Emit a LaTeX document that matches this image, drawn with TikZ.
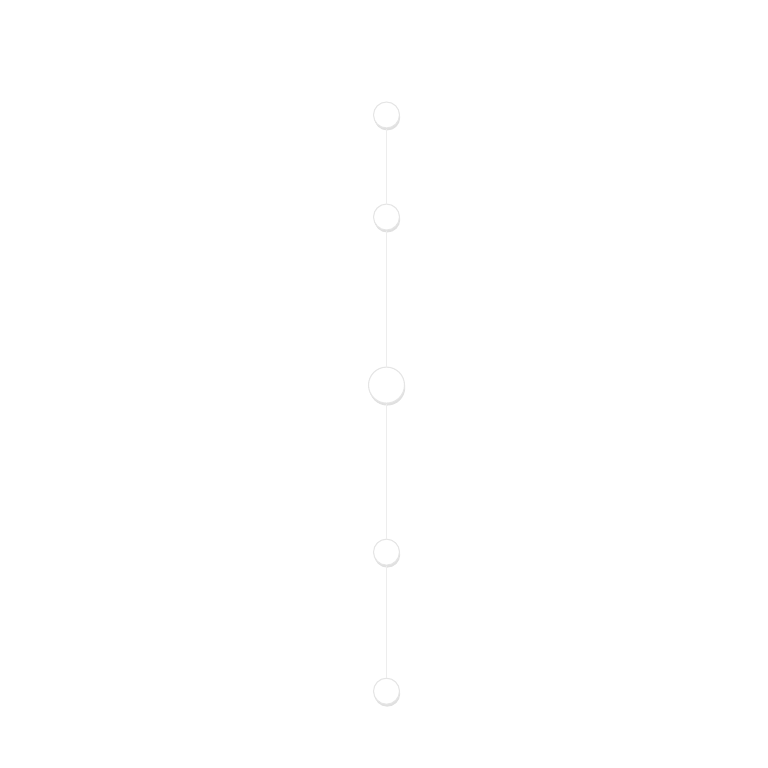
\documentclass[tikz,border=0pt]{standalone}
\usepackage{tikz}
\usetikzlibrary{shapes,arrows,positioning,shadows}
\tikzstyle{dot} = [draw=black!10,fill=white,circle,inner sep=0,minimum size=0.26cm,line width=0.3pt,
  drop shadow={shadow xshift=0.2pt,shadow yshift=-0.7pt,opacity=0.12,fill=black}]
\tikzstyle{bigdot} = [dot,minimum size=0.36cm]
\tikzstyle{spine} = [-,line width=0.3pt,draw=black!7]

\begin{document}
\begin{tikzpicture}[auto, node distance=1cm]
      \useasboundingbox (0,0) rectangle (7.68,7.68);
      \node[dot] (p1) at (3.865,6.53) {};
      \node[dot,below=0.75cm of p1]  (p2) {};
      \node[bigdot,below=1.36cm of p2] (p3) {};
      \node[dot,below=1.35cm of p3]  (p4) {};
      \node[dot,below=1.12cm of p4]  (p5) {};
      \draw[spine] (p1.south) -- (p2.north);
      \draw[spine] (p2.south) -- (p3.north);
      \draw[spine] (p3.south) -- (p4.north);
      \draw[spine] (p4.south) -- (p5.north);
    \end{tikzpicture}
\end{document}
